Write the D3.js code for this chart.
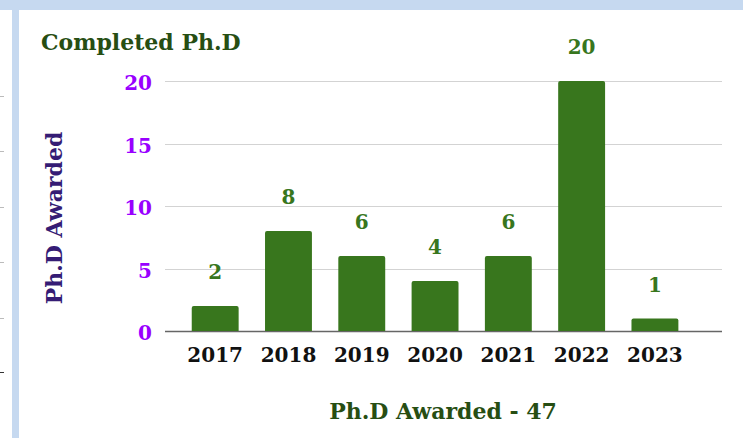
<!DOCTYPE html>
<html>
<head>
<meta charset="utf-8">
<script src="https://cdn.jsdelivr.net/npm/d3@7"></script>
<style>
  body { margin: 0; background: #fff; }
  svg { display: block; }
  text { font-family: Georgia, "DejaVu Serif", serif; font-weight: bold; }
</style>
</head>
<body>
<div id="chart"></div>
<script>
// Chart data
var years = ['2017', '2018', '2019', '2020', '2021', '2022', '2023'];
var awarded = [2, 8, 6, 4, 6, 20, 1];
var yTicks = [0, 5, 10, 15, 20];

var width = 743;
var height = 438;

var svg = d3.select('#chart')
            .append('svg')
            .attr('width', width)
            .attr('height', height);

// Frame around the chart (light blue bands and the neighbour's ticks)
svg.append('rect')
   .attr('x', 0).attr('y', 0)
   .attr('width', width).attr('height', 10)
   .attr('fill', '#c6d9f0');
svg.append('rect')
   .attr('x', 12).attr('y', 10)
   .attr('width', 7).attr('height', height - 10)
   .attr('fill', '#c6d9f0');
var sideTicks = [96, 151, 207, 262, 318, 372];
svg.selectAll('.side-tick')
   .data(sideTicks)
   .enter()
   .append('line')
   .attr('class', 'side-tick')
   .attr('x1', 0).attr('x2', 4)
   .attr('y1', function (d) { return d + 0.5; })
   .attr('y2', function (d) { return d + 0.5; })
   .attr('stroke', function (d, i) { return i === sideTicks.length - 1 ? '#333' : '#bbb'; });

// Scales
var x = d3.scaleBand()
          .domain(years)
          .range([165, 722])
          .paddingInner(0.36)
          .paddingOuter(0.48)
          .align(0.38);
var y = d3.scaleLinear()
          .domain([0, 20])
          .range([331, 81]);

// Gridlines
svg.append('g')
   .attr('class', 'grid')
   .selectAll('line')
   .data(yTicks)
   .enter()
   .append('line')
   .attr('x1', 165)
   .attr('x2', 722)
   .attr('y1', function (d) { return Math.round(y(d)) + 0.5; })
   .attr('y2', function (d) { return Math.round(y(d)) + 0.5; })
   .attr('stroke', function (d) { return d === 0 ? '#666' : '#d3d3d3'; })
   .attr('stroke-width', function (d) { return d === 0 ? 1.5 : 1; });

// Y tick labels
svg.append('g')
   .selectAll('text')
   .data(yTicks)
   .enter()
   .append('text')
   .attr('x', 152)
   .attr('y', function (d) { return y(d) + 9; })
   .attr('text-anchor', 'end')
   .attr('font-size', 20)
   .attr('fill', '#9900ff')
   .text(function (d) { return d; });

// Bars
var bar = svg.append('g').attr('class', 'bars');
bar.selectAll('path')
   .data(years)
   .enter()
   .append('path')
   .attr('fill', '#38761d')
   .attr('d', function (d, i) {
     var x0 = x(d), w = x.bandwidth();
     var top = y(awarded[i]), bottom = y(0), r = 2;
     return 'M' + x0 + ',' + bottom +
            'V' + (top + r) +
            'Q' + x0 + ',' + top + ' ' + (x0 + r) + ',' + top +
            'H' + (x0 + w - r) +
            'Q' + (x0 + w) + ',' + top + ' ' + (x0 + w) + ',' + (top + r) +
            'V' + bottom + 'Z';
   });

// Value labels
svg.append('g')
   .selectAll('text')
   .data(years)
   .enter()
   .append('text')
   .attr('x', function (d) { return x(d) + x.bandwidth() / 2; })
   .attr('y', function (d, i) { return y(awarded[i]) - 27; })
   .attr('text-anchor', 'middle')
   .attr('font-size', 20)
   .attr('fill', '#38761d')
   .text(function (d, i) { return awarded[i]; });

// X labels
svg.append('g')
   .selectAll('text')
   .data(years)
   .enter()
   .append('text')
   .attr('x', function (d) { return x(d) + x.bandwidth() / 2; })
   .attr('y', 362)
   .attr('text-anchor', 'middle')
   .attr('font-size', 20)
   .attr('fill', '#111')
   .text(function (d) { return d; });

// Titles
svg.append('text')
   .attr('x', 41)
   .attr('y', 50)
   .attr('font-size', 22)
   .attr('fill', '#274e13')
   .text('Completed Ph.D');

svg.append('text')
   .attr('x', 443)
   .attr('y', 419)
   .attr('text-anchor', 'middle')
   .attr('font-size', 22)
   .attr('fill', '#274e13')
   .text('Ph.D Awarded - 47');

svg.append('text')
   .attr('transform', 'translate(62,218) rotate(-90)')
   .attr('text-anchor', 'middle')
   .attr('font-size', 22)
   .attr('fill', '#351c75')
   .text('Ph.D Awarded');
</script>
</body>
</html>
